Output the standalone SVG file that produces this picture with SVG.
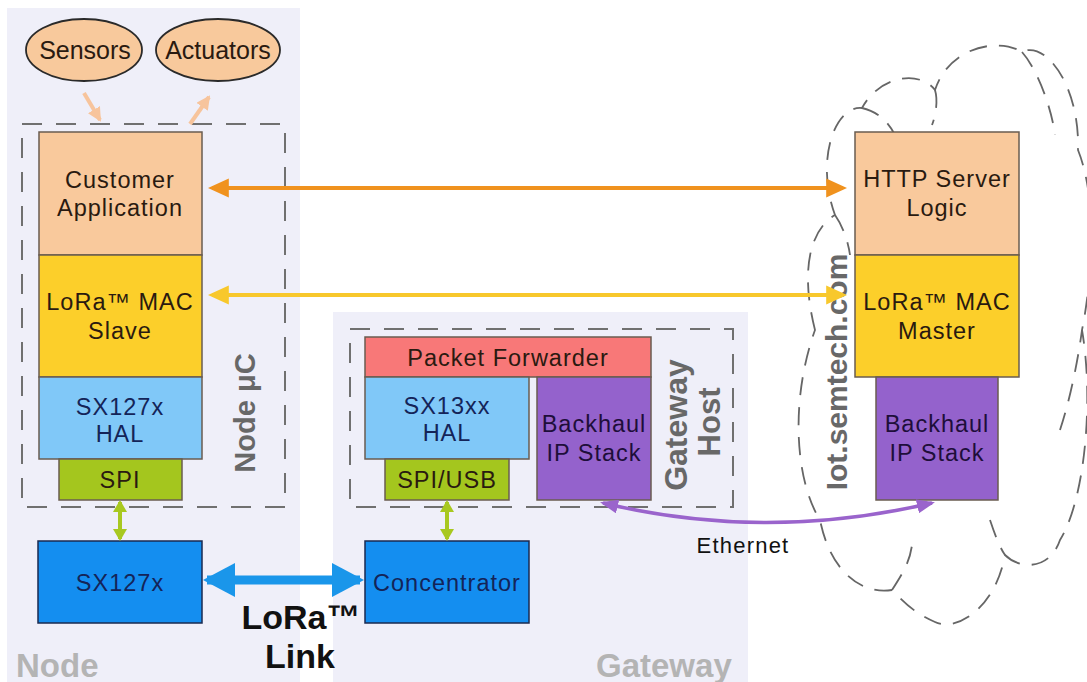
<svg xmlns="http://www.w3.org/2000/svg" width="1087" height="682" viewBox="0 0 1087 682">
<style>
text{font-family:"Liberation Sans",Arial,sans-serif;}
.bt{font-size:23.5px;letter-spacing:1px;text-anchor:middle;fill:#2a1a10;}
.bb{font-size:23.5px;letter-spacing:1px;text-anchor:middle;fill:#142458;}
.bp{font-size:23.5px;letter-spacing:1px;text-anchor:middle;fill:#1e0e3a;}
.el{font-size:25px;text-anchor:middle;fill:#2a1a10;}
.box{stroke:#6a5c50;stroke-width:1.5;}
.dash{fill:none;stroke:#707070;stroke-width:2;stroke-dasharray:20 14;}
.lab{font-weight:bold;fill:#686868;text-anchor:middle;}
.big{font-size:33px;font-weight:bold;fill:#b4b4b4;}
.cl{fill:none;stroke:#666;stroke-width:1.8;stroke-dasharray:18 12;}
</style>
<defs>
<marker id="mOr" viewBox="0 0 20 20" refX="16" refY="10" markerWidth="21" markerHeight="21" markerUnits="userSpaceOnUse" orient="auto-start-reverse"><path d="M0,1 L20,10 L0,19 Z" fill="#f0921e"/></marker>
<marker id="mYe" viewBox="0 0 20 20" refX="16" refY="10" markerWidth="21" markerHeight="21" markerUnits="userSpaceOnUse" orient="auto-start-reverse"><path d="M0,1 L20,10 L0,19 Z" fill="#f8c82c"/></marker>
<marker id="mBl" viewBox="0 0 32 34" refX="28" refY="17" markerWidth="32" markerHeight="34" markerUnits="userSpaceOnUse" orient="auto-start-reverse"><path d="M0,0 L32,17 L0,34 Z" fill="#1a96ea"/></marker>
<marker id="mGr" viewBox="0 0 12 14" refX="10" refY="7" markerWidth="12" markerHeight="14" markerUnits="userSpaceOnUse" orient="auto-start-reverse"><path d="M0,0 L12,7 L0,14 Z" fill="#a8c820"/></marker>
<marker id="mPe" viewBox="0 0 14 14" refX="12" refY="7" markerWidth="14" markerHeight="14" markerUnits="userSpaceOnUse" orient="auto-start-reverse"><path d="M0,0 L14,7 L0,14 Z" fill="#f7c49c"/></marker>
<marker id="mPu" viewBox="0 0 18 14" refX="15" refY="7" markerWidth="18" markerHeight="14" markerUnits="userSpaceOnUse" orient="auto-start-reverse"><path d="M0,0 L18,7 L0,14 Z" fill="#9a64cc"/></marker>
</defs>
<rect width="1087" height="682" fill="#ffffff"/>
<g id="panels">
<rect x="7" y="8" width="293" height="674" fill="#efeff9"/>
<rect x="333" y="312" width="415" height="370" fill="#efeff9"/>
<path d="M815,330 C800,270 810,230 835,215 C815,160 835,105 862,108 C880,75 920,70 935,90 C950,45 1000,38 1022,52 C1045,40 1080,85 1078,150 C1098,200 1092,280 1082,330 C1094,400 1085,500 1060,540 C1050,570 1020,570 1005,555 C995,610 955,632 935,622 C912,612 902,600 892,590 C860,595 830,570 820,520 C795,480 790,400 815,330 Z" fill="#f7f7f7" class="cl"/>
<path d="M862,108 C880,112 890,125 895,135" class="cl"/>
<path d="M935,90 C938,100 936,115 932,125" class="cl"/>
<path d="M1022,52 C1038,70 1052,110 1055,135" class="cl"/>
<path d="M835,215 C842,225 848,240 850,255" class="cl"/>
<path d="M892,590 C905,570 910,560 912,545" class="cl"/>
<path d="M990,520 C995,535 1000,548 1005,555" class="cl"/>
<path d="M1060,430 C1070,400 1078,360 1082,330" class="cl"/>
<rect x="22" y="124" width="263" height="383" class="dash"/>
<rect x="350" y="329" width="383" height="178" class="dash"/>
</g>
<g id="labels">
<text class="lab" font-size="29" transform="translate(255,413) rotate(-90)">Node μC</text>
<text class="lab" font-size="32" transform="translate(687,425) rotate(-90)">Gateway</text>
<text class="lab" font-size="31" transform="translate(720,422) rotate(-90)">Host</text>
<text class="lab" font-size="30" transform="translate(847,372) rotate(-90)">Iot.semtech.com</text>
<text class="big" x="16" y="677">Node</text>
<text class="big" x="596" y="677">Gateway</text>
<text x="301" y="629" font-size="34" font-weight="bold" fill="#111" text-anchor="middle">LoRa™</text>
<text x="300" y="668" font-size="34" font-weight="bold" fill="#111" text-anchor="middle">Link</text>
<text x="743" y="553" font-size="22" letter-spacing="1.2" fill="#111" text-anchor="middle">Ethernet</text>
</g>
<g id="sensors"><ellipse cx="84" cy="50" rx="58" ry="31" fill="#f8c99c" stroke="#2a2a2a" stroke-width="1.8"/><text class="el" x="85" y="59">Sensors</text></g>
<g id="actuators"><ellipse cx="218" cy="50" rx="62" ry="31" fill="#f8c99c" stroke="#2a2a2a" stroke-width="1.8"/><text class="el" x="218" y="59">Actuators</text></g>
<g id="customer-app"><rect x="39" y="132" width="163" height="123" fill="#f9c99c" class="box"/><text class="bt" x="120" y="188">Customer</text><text class="bt" x="120" y="216">Application</text></g>
<g id="mac-slave"><rect x="39" y="255" width="163" height="122" fill="#fccf2a" class="box"/><text class="bt" x="120" y="310">LoRa™ MAC</text><text class="bt" x="120" y="339">Slave</text></g>
<g id="sx127x-hal"><rect x="39" y="377" width="163" height="82" fill="#80c8f8" class="box"/><text class="bb" x="120" y="415">SX127x</text><text class="bb" x="120" y="442">HAL</text></g>
<g id="spi"><rect x="59" y="459" width="123" height="41" fill="#a4c61e" class="box"/><text class="bt" x="120" y="488">SPI</text></g>
<g id="sx127x"><rect x="38" y="541" width="164" height="82" fill="#148ef0" stroke="#1a2a50" stroke-width="1.5"/><text class="bb" x="120" y="591">SX127x</text></g>
<g id="packet-forwarder"><rect x="365" y="337" width="286" height="40" fill="#f87878" class="box"/><text class="bt" x="508" y="366">Packet Forwarder</text></g>
<g id="sx13xx-hal"><rect x="365" y="377" width="164" height="82" fill="#80c8f8" class="box"/><text class="bb" x="447" y="414">SX13xx</text><text class="bb" x="447" y="441">HAL</text></g>
<g id="gw-backhaul"><rect x="537" y="377" width="114" height="123" fill="#9462cc" class="box"/><text class="bp" x="594" y="432">Backhaul</text><text class="bp" x="594" y="461">IP Stack</text></g>
<g id="spi-usb"><rect x="385" y="459" width="124" height="41" fill="#a4c61e" class="box"/><text class="bt" x="447" y="488">SPI/USB</text></g>
<g id="concentrator"><rect x="365" y="541" width="164" height="82" fill="#148ef0" stroke="#1a2a50" stroke-width="1.5"/><text class="bb" x="447" y="591">Concentrator</text></g>
<g id="http-server"><rect x="855" y="132" width="164" height="123" fill="#f9c99c" class="box"/><text class="bt" x="937" y="187">HTTP Server</text><text class="bt" x="937" y="216">Logic</text></g>
<g id="mac-master"><rect x="855" y="255" width="164" height="122" fill="#fccf2a" class="box"/><text class="bt" x="937" y="310">LoRa™ MAC</text><text class="bt" x="937" y="339">Master</text></g>
<g id="cloud-backhaul"><rect x="876" y="377" width="122" height="123" fill="#9462cc" class="box"/><text class="bp" x="937" y="432">Backhaul</text><text class="bp" x="937" y="461">IP Stack</text></g>
<g id="connectors" fill="none">
<line x1="84" y1="93" x2="100" y2="120" stroke="#f7c49c" stroke-width="4" marker-end="url(#mPe)"/>
<line x1="190" y1="124" x2="209" y2="97" stroke="#f7c49c" stroke-width="4" marker-end="url(#mPe)"/>
<line x1="212" y1="188" x2="843" y2="188" stroke="#f0921e" stroke-width="4" marker-start="url(#mOr)" marker-end="url(#mOr)"/>
<line x1="212" y1="295" x2="843" y2="295" stroke="#f8c82c" stroke-width="4" marker-start="url(#mYe)" marker-end="url(#mYe)"/>
<line x1="120" y1="502" x2="120" y2="539" stroke="#a8c820" stroke-width="4" marker-start="url(#mGr)" marker-end="url(#mGr)"/>
<line x1="447" y1="502" x2="447" y2="539" stroke="#a8c820" stroke-width="4" marker-start="url(#mGr)" marker-end="url(#mGr)"/>
<line x1="207" y1="580" x2="360" y2="580" stroke="#1a96ea" stroke-width="9" marker-start="url(#mBl)" marker-end="url(#mBl)"/>
<path d="M603,503 Q765,542 932,503" stroke="#9a64cc" stroke-width="3.5" marker-start="url(#mPu)" marker-end="url(#mPu)"/>
</g>
</svg>
